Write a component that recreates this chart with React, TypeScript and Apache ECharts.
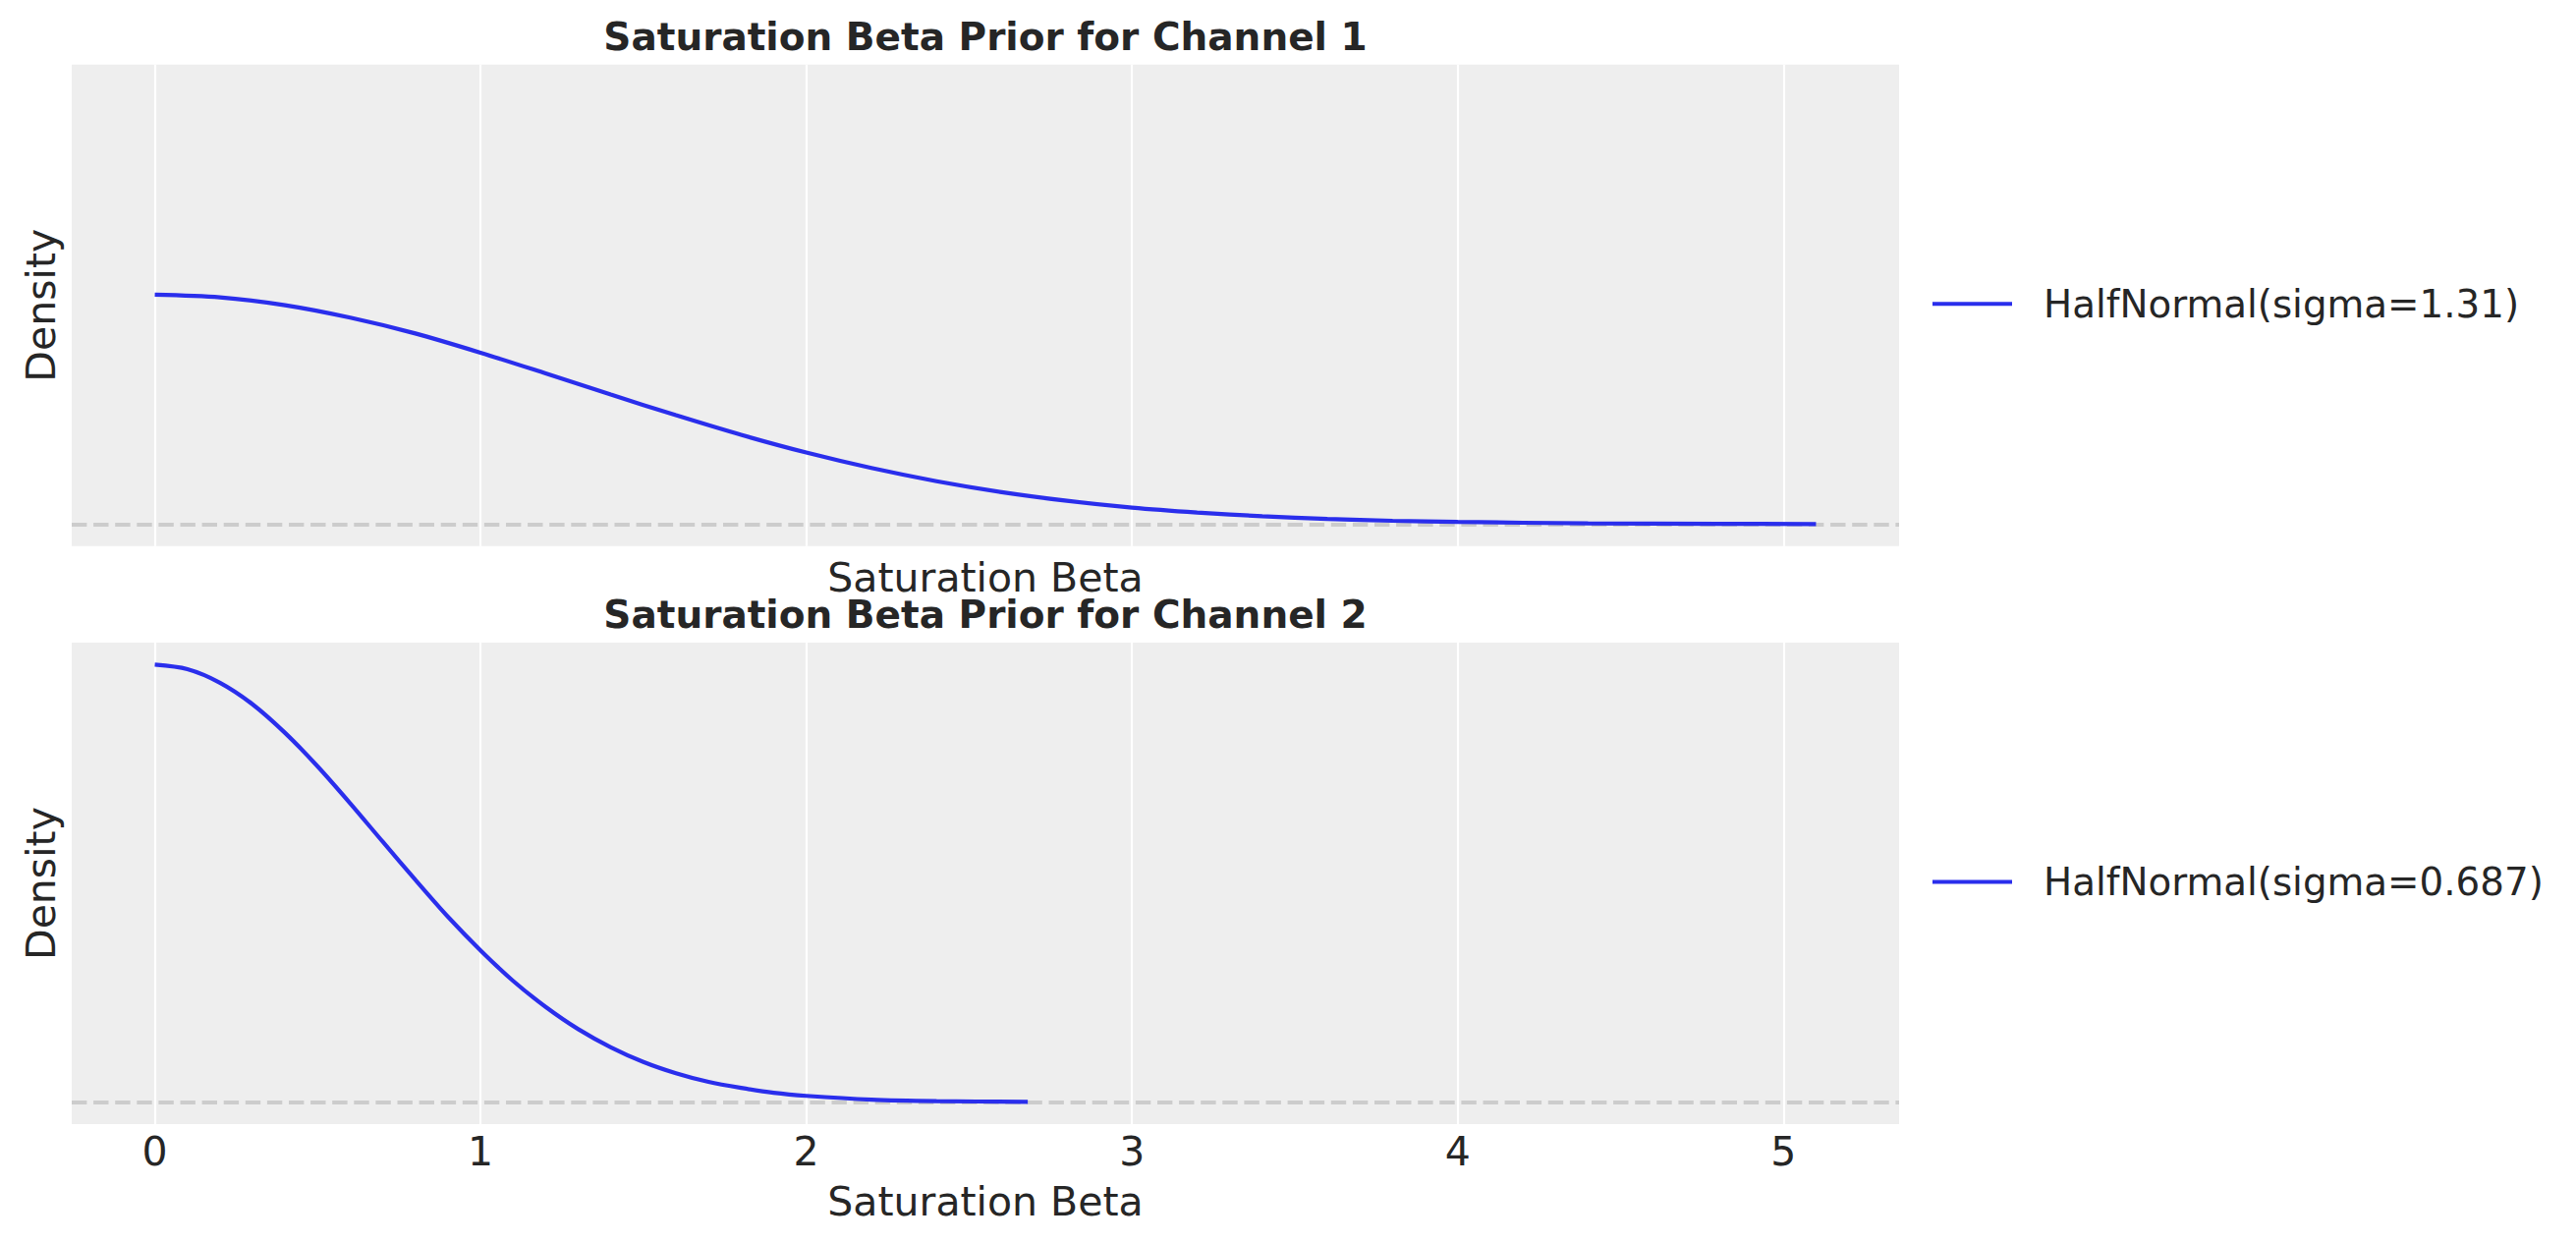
import React, { useEffect, useRef } from "react";
import * as echarts from "echarts";

const W = 2622;
const H = 1265;

// ---- data ----
const panelTitles = [
  "Saturation Beta Prior for Channel 1",
  "Saturation Beta Prior for Channel 2",
];
const seriesNames = ["HalfNormal(sigma=1.31)", "HalfNormal(sigma=0.687)"];
const xAxisLabel = "Saturation Beta";
const yAxisLabel = "Density";

const ch1X = [0, 0.2, 0.4, 0.6, 0.8, 1.0, 1.2, 1.4, 1.6, 1.8, 2.0, 2.2, 2.4, 2.6, 2.8, 3.0, 3.2, 3.4, 3.6, 3.8, 4.0, 4.4, 4.8, 5.1];
const ch1Y = [0.609, 0.602, 0.581, 0.548, 0.506, 0.455, 0.4, 0.344, 0.289, 0.237, 0.19, 0.149, 0.114, 0.085, 0.062, 0.044, 0.031, 0.021, 0.014, 0.009, 0.006, 0.002, 0.001, 0.0003];

const ch2X = [0, 0.1, 0.2, 0.3, 0.4, 0.5, 0.6, 0.7, 0.8, 0.9, 1.0, 1.1, 1.2, 1.3, 1.4, 1.5, 1.6, 1.7, 1.8, 1.9, 2.0, 2.2, 2.4, 2.68];
const ch2Y = [1.161, 1.149, 1.113, 1.056, 0.98, 0.891, 0.793, 0.691, 0.59, 0.492, 0.403, 0.322, 0.253, 0.194, 0.146, 0.107, 0.077, 0.054, 0.038, 0.025, 0.017, 0.007, 0.003, 0.001];

const xRange = [-0.255, 5.355];
const yRange = [-0.058, 1.2195];

// ---- style ----
const FONT = '"DejaVu Sans", "Noto Sans", sans-serif';
const TEXT = "#262626";
const LINE_COLOR = "#2a2eec";
const BG = "#eeeeee";

const gridLeft = 73;
const gridWidth = 1860;
const gridTops = [65.7, 654];
const gridHeight = 490;

export default function App() {
  const ref = useRef<HTMLDivElement>(null);

  useEffect(() => {
    if (!ref.current) return;
    const chart = echarts.init(ref.current, null, { renderer: "svg", width: W, height: H });

    const zip = (xs: number[], ys: number[]) => xs.map((x, i) => [x, ys[i]]);
    const datasets = [zip(ch1X, ch1Y), zip(ch2X, ch2Y)];

    const nameStyle = { fontSize: 41, lineHeight: 36, color: TEXT, fontFamily: FONT };

    const option: any = {
      animation: false,
      backgroundColor: "#ffffff",
      grid: gridTops.map((t) => ({
        left: gridLeft,
        top: t,
        width: gridWidth,
        height: gridHeight,
        show: true,
        backgroundColor: BG,
        borderWidth: 0,
        containLabel: false,
      })),
      xAxis: [0, 1].map((i) => ({
        type: "value",
        gridIndex: i,
        min: xRange[0],
        max: xRange[1],
        minInterval: 1,
        maxInterval: 1,
        axisLine: { show: false },
        axisTick: { show: false },
        axisLabel: {
          show: i === 1,
          showMinLabel: false,
          showMaxLabel: false,
          margin: 7,
          fontSize: 41,
          lineHeight: 41,
          color: TEXT,
          fontFamily: FONT,
        },
        splitLine: {
          show: true,
          showMinLine: false,
          showMaxLine: false,
          lineStyle: { color: "#ffffff", width: 2.2 },
        },
        name: xAxisLabel,
        nameLocation: "middle",
        nameGap: i === 0 ? 14.1 : 61.1,
        nameTextStyle: nameStyle,
      })),
      yAxis: [0, 1].map((i) => ({
        type: "value",
        gridIndex: i,
        min: yRange[0],
        max: yRange[1],
        axisLine: { show: false },
        axisTick: { show: false },
        axisLabel: { show: false },
        splitLine: { show: false },
        name: yAxisLabel,
        nameLocation: "middle",
        nameRotate: 90,
        nameGap: 13.5,
        nameTextStyle: nameStyle,
      })),
      legend: [0, 1].map((i) => ({
        data: [seriesNames[i]],
        left: 1967,
        top: gridTops[i] + gridHeight / 2 - 1.5 - 20.5,
        orient: "vertical",
        padding: 0,
        icon: "rect",
        itemWidth: 81,
        itemHeight: 4,
        selectedMode: false,
        itemStyle: { color: LINE_COLOR },
        textStyle: {
          fontSize: 38.8,
          lineHeight: 41,
          color: TEXT,
          fontFamily: FONT,
          padding: [0, 0, 0, 27],
        },
      })),
      graphic: panelTitles.map((t, i) => ({
        type: "text",
        x: gridLeft + gridWidth / 2,
        y: gridTops[i] - 15 - 13.5,
        silent: true,
        style: {
          text: t,
          fill: TEXT,
          font: `bold 39px ${FONT}`,
          textAlign: "center",
          textVerticalAlign: "middle",
          verticalAlign: "middle",
        },
      })),
      series: [0, 1].map((i) => ({
        type: "line",
        name: seriesNames[i],
        xAxisIndex: i,
        yAxisIndex: i,
        data: datasets[i],
        showSymbol: false,
        symbol: "none",
        smooth: 0.3,
        z: 3,
        lineStyle: { color: LINE_COLOR, width: 4.2 },
        itemStyle: { color: LINE_COLOR },
        emphasis: { disabled: true },
        markLine: {
          silent: true,
          z: 1,
          symbol: ["none", "none"],
          label: { show: false },
          emphasis: { disabled: true },
          lineStyle: { color: "#cccccc", type: [15.4, 6.7], width: 4.2 },
          data: [{ yAxis: 0 }],
        },
      })),
    };

    chart.setOption(option);
    return () => chart.dispose();
  }, []);

  return (
    <div
      ref={ref}
      style={{ position: "absolute", left: 0, top: 0, width: W, height: H, background: "#fff" }}
    />
  );
}
